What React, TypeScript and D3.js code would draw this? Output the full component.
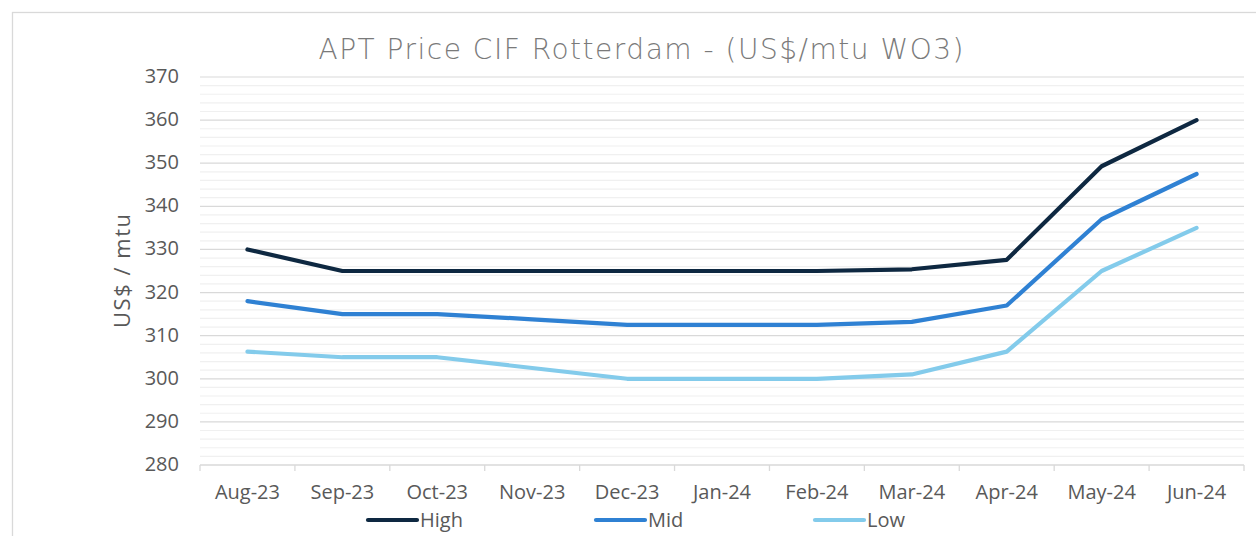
import React, { useEffect, useRef } from 'react';
import * as d3 from 'd3';

const months = ['Aug-23', 'Sep-23', 'Oct-23', 'Nov-23', 'Dec-23', 'Jan-24', 'Feb-24', 'Mar-24', 'Apr-24', 'May-24', 'Jun-24'];
const highValues = [330, 325, 325, 325, 325, 325, 325, 325.4, 327.6, 349.3, 360];
const midValues = [318, 315, 315, 313.8, 312.5, 312.5, 312.5, 313.2, 317, 337, 347.5];
const lowValues = [306.3, 305, 305, 302.5, 300, 300, 300, 301, 306.3, 325, 335];
const yTicks = [280, 290, 300, 310, 320, 330, 340, 350, 360, 370];

const seriesList = [
  { name: 'High', values: highValues, color: '#0e2841' },
  { name: 'Mid', values: midValues, color: '#2f81d3' },
  { name: 'Low', values: lowValues, color: '#83cbeb' },
];

const W = 1256;
const H = 536;
const FONT = '"Open Sans", Inter, sans-serif';

const App: React.FC = () => {
  const svgRef = useRef<SVGSVGElement>(null);

  useEffect(() => {
    if (!svgRef.current) return;
    const svg = d3.select(svgRef.current);
    svg.selectAll('*').remove();

    const plot = { left: 200, right: 1244, top: 77, bottom: 465 };

    // frame
    svg.append('rect')
      .attr('x', 12.5).attr('y', 12.5)
      .attr('width', 1280).attr('height', 560)
      .attr('fill', '#fff').attr('stroke', '#d9d9d9').attr('stroke-width', 1.3);

    const x = d3.scaleBand<string>().domain(months).range([plot.left, plot.right]);
    const y = d3.scaleLinear().domain([280, 370]).range([plot.bottom, plot.top]);

    // minor gridlines
    const minor = d3.range(282, 370, 2).filter(v => v % 10 !== 0);
    svg.append('g').selectAll('line').data(minor).enter().append('line')
      .attr('x1', plot.left).attr('x2', plot.right)
      .attr('y1', d => y(d)).attr('y2', d => y(d))
      .attr('stroke', '#f0f0f0').attr('stroke-width', 1.2);

    // major gridlines
    svg.append('g').selectAll('line').data(yTicks.slice(1)).enter().append('line')
      .attr('x1', plot.left).attr('x2', plot.right)
      .attr('y1', d => y(d)).attr('y2', d => y(d))
      .attr('stroke', '#d9d9d9').attr('stroke-width', 1.2);

    // y tick labels
    svg.append('g').selectAll('text').data(yTicks).enter().append('text')
      .attr('x', 179).attr('y', d => y(d) - 1).attr('dy', '0.35em')
      .attr('text-anchor', 'end')
      .style('font-family', FONT).style('font-size', '20px').style('fill', '#595959')
      .text(d => d);

    // x axis
    const xAxis = svg.append('g').attr('transform', `translate(0,${plot.bottom})`);
    xAxis.append('line')
      .attr('x1', plot.left).attr('x2', plot.right)
      .attr('stroke', '#d9d9d9').attr('stroke-width', 1.3);
    const bounds = months.map(m => x(m) as number).concat([plot.right]);
    xAxis.selectAll('line.tick').data(bounds).enter().append('line')
      .attr('class', 'tick')
      .attr('x1', d => d).attr('x2', d => d).attr('y1', 0).attr('y2', 6)
      .attr('stroke', '#d9d9d9').attr('stroke-width', 1.3);
    xAxis.selectAll('text').data(months).enter().append('text')
      .attr('x', d => (x(d) as number) + x.bandwidth() / 2).attr('y', 34)
      .attr('text-anchor', 'middle')
      .style('font-family', FONT).style('font-size', '20px').style('fill', '#595959')
      .text(d => d);

    // y axis title
    svg.append('text')
      .attr('transform', `translate(130,${(plot.top + plot.bottom) / 2}) rotate(-90)`)
      .attr('text-anchor', 'middle')
      .attr('textLength', 114).attr('lengthAdjust', 'spacing')
      .style('font-family', FONT).style('font-size', '22px').style('fill', '#595959')
      .text('US$ / mtu');

    // title
    svg.append('text')
      .attr('x', 641).attr('y', 59)
      .attr('text-anchor', 'middle')
      .attr('textLength', 645).attr('lengthAdjust', 'spacing')
      .style('font-family', '"DejaVu Sans", "Open Sans", sans-serif')
      .style('font-size', '28px').style('font-weight', 200)
      .style('fill', '#7a7a7a')
      .text('APT Price CIF Rotterdam - (US$/mtu WO3)');

    // lines
    const line = d3.line<number>()
      .x((_, i) => (x(months[i]) as number) + x.bandwidth() / 2)
      .y(d => y(d));

    seriesList.forEach(s => {
      svg.append('path')
        .datum(s.values)
        .attr('fill', 'none')
        .attr('stroke', s.color)
        .attr('stroke-width', 4.2)
        .attr('stroke-linejoin', 'round')
        .attr('stroke-linecap', 'round')
        .attr('d', line);
    });

    // legend
    const legendX = [366, 594, 813];
    seriesList.forEach((s, i) => {
      const g = svg.append('g').attr('transform', `translate(${legendX[i]},520)`);
      g.append('line')
        .attr('x1', 2).attr('x2', 51)
        .attr('stroke', s.color).attr('stroke-width', 4.2).attr('stroke-linecap', 'round');
      g.append('text')
        .attr('x', 54).attr('dy', '0.35em')
        .style('font-family', FONT).style('font-size', '20px').style('fill', '#595959')
        .text(s.name);
    });
  }, []);

  return (
    <svg
      ref={svgRef}
      width={W}
      height={H}
      style={{ position: 'absolute', left: 0, top: 0, display: 'block', background: '#fff' }}
    />
  );
};

export default App;
